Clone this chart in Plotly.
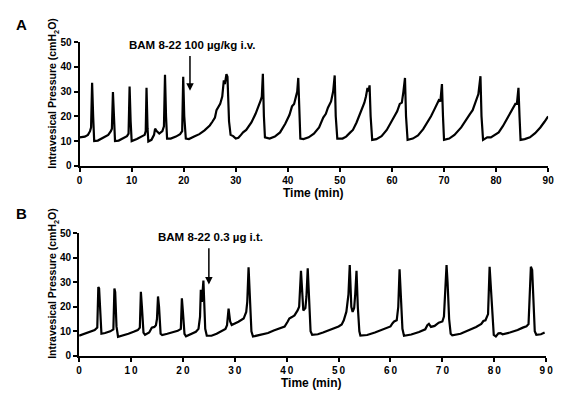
import plotly.graph_objects as go

# ---------------- data ----------------
time_a = [0, 1.0, 1.6, 2.0, 2.2, 2.4, 2.6, 2.8, 3.5, 4.5, 5.5, 6.0, 6.2, 6.4, 6.6, 6.8,
          7.5, 8.5, 9.1, 9.4, 9.6, 9.8, 10.0, 11.0, 12.0, 12.5, 12.7, 12.85, 13.05, 13.2,
          13.8, 14.3, 14.5, 14.8, 15.3, 15.9, 16.2, 16.4, 16.6, 16.8, 17.5, 18.5, 19.3,
          19.7, 19.9, 20.1, 20.4, 21.0, 22.0, 23.0, 24.0, 25.0, 25.5, 26.0, 26.3, 26.6,
          27.0, 27.4, 27.7, 27.9, 28.2, 28.4, 28.7, 29.0, 29.5, 30.0, 30.5, 31.0, 31.4,
          32.0, 33.0, 33.8, 34.3, 34.8, 35.0, 35.2, 35.4, 35.6, 36.5, 37.5, 38.5, 39.5,
          40.3, 40.8, 41.2, 41.5, 41.8, 42.0, 42.2, 42.4, 43.0, 44.0, 45.0, 46.0, 46.8,
          47.3, 47.7, 48.3, 48.7, 49.0, 49.2, 49.5, 50.5, 51.2, 52.0, 52.5, 53.2, 53.7,
          54.2, 54.7, 55.0, 55.3, 55.5, 55.7, 55.9, 56.2, 57.0, 58.0, 59.0, 59.8, 60.5,
          61.0, 61.5, 61.9, 62.2, 62.5, 62.7, 63.0, 64.0, 65.0, 66.0, 66.8, 67.5, 68.2,
          68.7, 69.0, 69.3, 69.6, 69.8, 70.0, 71.0, 72.0, 73.3, 74.3, 75.0, 75.5, 76.1,
          76.6, 77.0, 77.2, 77.5, 78.3, 79.0, 80.0, 80.5, 81.3, 82.1, 82.8, 83.3, 83.7,
          84.0, 84.3, 84.5, 84.7, 85.5, 86.5, 87.5, 88.5, 89.3, 90.0]
pressure_a = [11.5, 11.8, 12.5, 14, 15.5, 33.5, 20, 10, 10.2, 11.2, 12.5, 14, 15, 29.8, 18, 10,
              10.2, 11.2, 12, 13, 32, 18, 10, 10.8, 11.8, 12.5, 14, 31.5, 15, 9.8,
              10.5, 12.5, 15, 14, 13, 14, 16, 36.8, 20, 11, 11, 11.8, 12.8,
              14, 36, 20, 11, 10.8, 11.8, 12.8, 14.3, 16.3, 17.8, 19.5, 22.5, 23.5,
              25, 28, 34.5, 33, 37, 36, 18, 12.5, 12, 11, 11.3, 12.5, 13.5,
              14.5, 17.5, 21, 23.5, 26.5, 28, 37.2, 20, 11.5, 11, 11.8, 13.5, 17,
              20.5, 24, 25, 28, 30, 35.5, 20, 11, 10.8, 11.5, 13, 15.5, 19.5,
              21, 23.5, 26, 30, 36.5, 20, 11, 11, 11.8, 13.5, 14.5, 17.5, 20,
              23, 25.5, 28, 31.5, 30, 32.5, 20, 10.5, 10.8, 12, 14.5, 17.5, 20,
              22, 25, 25.5, 30, 35.5, 20, 10.5, 11, 12.3, 14.8, 17.5, 20, 23,
              25, 26.5, 26, 33, 20, 10.5, 11, 12.5, 15.5, 19, 21, 22.5, 26,
              29, 36.2, 20, 10.5, 11.5, 11.5, 13, 13.5, 16, 19, 22, 23.5, 25,
              25, 31.5, 20, 10.5, 10.8, 11.5, 13.2, 15.5, 17.8, 20]

time_b = [0, 1.0, 2.0, 3.0, 3.5, 3.7, 3.85, 4.1, 4.3, 5.0, 6.0, 6.6, 6.8, 6.95, 7.2, 7.5,
          8.5, 9.5, 10.5, 11.3, 11.7, 11.9, 12.1, 12.4, 12.7, 13.5, 14.0, 14.5, 14.8,
          15.0, 15.2, 15.4, 15.7, 16.0, 17.0, 18.0, 19.0, 19.6, 19.8, 20.0, 20.3, 20.6,
          21.5, 22.5, 23.0, 23.3, 23.45, 23.65, 23.95, 24.1, 24.3, 24.6, 25.5, 26.5,
          27.5, 28.2, 28.5, 28.8, 29.1, 29.4, 30.7, 31.7, 32.2, 32.4, 32.65, 32.9, 33.2,
          33.5, 34.5, 36.4, 37.5, 39.6, 40.2, 40.5, 41.0, 41.5, 42.1, 42.4, 42.75, 42.95,
          43.2, 43.6, 43.8, 44.05, 44.3, 44.6, 44.9, 46.0, 47.0, 48.0, 49.0, 50.0, 50.6,
          51.0, 51.5, 51.9, 52.15, 52.45, 52.7, 53.0, 53.2, 53.45, 53.7, 54.0, 54.2,
          55.5, 57.0, 58.5, 60.0, 60.4, 60.7, 61.2, 61.5, 61.75, 62.0, 62.3, 62.6, 64.0,
          65.5, 66.7, 67.1, 67.4, 67.8, 68.5, 69.3, 70.0, 70.3, 70.6, 70.8, 71.0, 71.3,
          71.6, 71.9, 73.5, 75.0, 76.5, 77.5, 77.9, 78.3, 78.8, 79.1, 79.3, 79.6, 79.9,
          80.3, 80.8, 81.2, 81.6, 83.0, 84.5, 85.5, 86.2, 86.6, 86.9, 87.05, 87.3, 87.5,
          87.8, 88.1, 89.0, 89.7]
pressure_b = [8.2, 9.0, 9.8, 10.5, 11.5, 28, 27.5, 14, 9, 9.3, 10, 10.8, 27.4, 26, 12, 7.8,
              8.3, 9.0, 9.8, 10.5, 11.5, 26.1, 20, 9.5, 8.6, 9.5, 11.5, 11.8, 12.5,
              15, 24.2, 20, 9, 8.5, 9.0, 9.6, 10.2, 11, 23.4, 18, 9, 8,
              8.7, 9.8, 11, 16, 26.9, 22, 30.7, 20, 11, 8.2, 8.2, 9,
              10, 11, 12.5, 19.2, 14, 12.6, 13.9, 15.2, 17.9, 22, 36.1, 22, 10,
              7.9, 8.3, 9.3, 10.3, 11.9, 14, 15.2, 15.8, 16.5, 18.5, 20, 34.6, 28,
              18.5, 19.5, 24, 35.7, 22, 10, 8.6, 8.8, 9.5, 10.3, 11, 12, 12.8,
              14.5, 18, 25, 37, 20, 17.9, 19.5, 25, 34.6, 20, 10, 8.3,
              8.5, 9.5, 10.7, 12, 13.3, 14, 14.5, 20, 35.3, 22, 11, 8.2, 8.7,
              9.7, 10.8, 12.5, 13, 11.8, 12.2, 13.5, 14, 16, 28, 37, 30, 15,
              9, 8.4, 9, 10.3, 11.8, 13, 14.2, 14.5, 17, 36.3, 28, 16, 8.5,
              7.9, 9.2, 9.3, 8.8, 9.5, 10.5, 11.5, 12, 13, 30, 36.3, 35, 25,
              10, 8.6, 8.8, 9.5]

x_tick_vals = [0, 10, 20, 30, 40, 50, 60, 70, 80, 90]
x_tick_text_a = ["0", "10", "20", "30", "40", "50", "60", "70", "80", "90"]
x_tick_text_b = ["0", "1\u20090", "2\u20090", "3\u20090", "4\u20090", "5\u20090",
                 "6\u20090", "7\u20090", "8\u20090", "9\u20090"]
y_tick_vals = [0, 10, 20, 30, 40, 50]
y_tick_text = ["0", "10", "20", "30", "40", "50"]

label_a = "BAM 8-22 100 µg/kg i.v."
label_b = "BAM 8-22 0.3 µg i.t."
arrow_a_time, arrow_b_time = 21.2, 25.0

# ---------------- layout ----------------
W, H = 563, 395
FONT = "Arial, 'Liberation Sans', sans-serif"


def px(x):
    return x / W


def py(y):
    return 1 - y / H


fig = go.Figure()
fig.add_trace(go.Scatter(x=time_a, y=pressure_a, mode="lines",
                         line=dict(color="black", width=2.2), xaxis="x", yaxis="y",
                         showlegend=False, hoverinfo="skip"))
fig.add_trace(go.Scatter(x=time_b, y=pressure_b, mode="lines",
                         line=dict(color="black", width=2.2), xaxis="x2", yaxis="y2",
                         showlegend=False, hoverinfo="skip"))

tickfont = dict(family=FONT, size=10, color="black", weight="bold")
axis_common = dict(showline=True, linecolor="black", linewidth=2, ticks="outside",
                   ticklen=4, tickwidth=1.5, tickcolor="black", showgrid=False,
                   zeroline=False, tickfont=tickfont, fixedrange=True)

fig.update_layout(
    width=W, height=H, margin=dict(l=0, r=0, t=0, b=0),
    paper_bgcolor="white", plot_bgcolor="white",
    xaxis=dict(domain=[px(78), px(555)], range=[0, 90], anchor="y",
               tickvals=x_tick_vals, ticktext=x_tick_text_a, **axis_common),
    yaxis=dict(domain=[py(165), py(38)], range=[0, 50], anchor="x",
               tickvals=y_tick_vals, ticktext=y_tick_text, **axis_common),
    xaxis2=dict(domain=[px(77.5), px(553)], range=[0, 90], anchor="y2",
                tickvals=x_tick_vals, ticktext=x_tick_text_b, **axis_common),
    yaxis2=dict(domain=[py(360), py(234)], range=[0, 50], anchor="x2",
                tickvals=y_tick_vals, ticktext=y_tick_text, **axis_common),
)

ann = []
title_font = dict(family=FONT, size=12, color="black", weight="bold")
ytitle_font = dict(family=FONT, size=10.5, color="black", weight="bold")
for (lab, ly, ycen, xcen_title, ytitle_px) in [("A", 20, 91, 316, 193), ("B", 214, 286, 314, 388)]:
    ann.append(dict(text=lab, x=px(19), y=py(ly), xref="paper", yref="paper",
                    showarrow=False, xanchor="center", yanchor="middle",
                    font=dict(family=FONT, size=15, color="black", weight="bold")))
    ann.append(dict(text="Intravesical Pressure (cmH<sub>2</sub>O)", x=px(51), y=py(ycen),
                    xref="paper", yref="paper", showarrow=False, textangle=-90,
                    xanchor="center", yanchor="middle", font=ytitle_font))
    ann.append(dict(text="Time (min)", x=px(xcen_title), y=py(ytitle_px), xref="paper",
                    yref="paper", showarrow=False, xanchor="center", yanchor="middle",
                    font=title_font))

label_font = dict(family=FONT, size=11.5, color="black", weight="bold")
ann.append(dict(text=label_a, x=px(193), y=py(41), xref="paper", yref="paper",
                showarrow=False, xanchor="center", yanchor="middle", font=label_font))
ann.append(dict(text=label_b, x=px(211), y=py(238), xref="paper", yref="paper",
                showarrow=False, xanchor="center", yanchor="middle", font=label_font))
ann.append(dict(x=arrow_a_time, y=30.3, xref="x", yref="y", ax=arrow_a_time, ay=45,
                axref="x", ayref="y", showarrow=True, arrowhead=2, arrowsize=1,
                arrowwidth=1.5, arrowcolor="black", text=""))
ann.append(dict(x=arrow_b_time, y=29.1, xref="x2", yref="y2", ax=arrow_b_time, ay=44.4,
                axref="x2", ayref="y2", showarrow=True, arrowhead=2, arrowsize=1,
                arrowwidth=1.5, arrowcolor="black", text=""))
fig.update_layout(annotations=ann)

fig.write_html("out.html", config={"displayModeBar": False},
               post_script="document.body.style.margin='0';document.body.style.padding='0';")
